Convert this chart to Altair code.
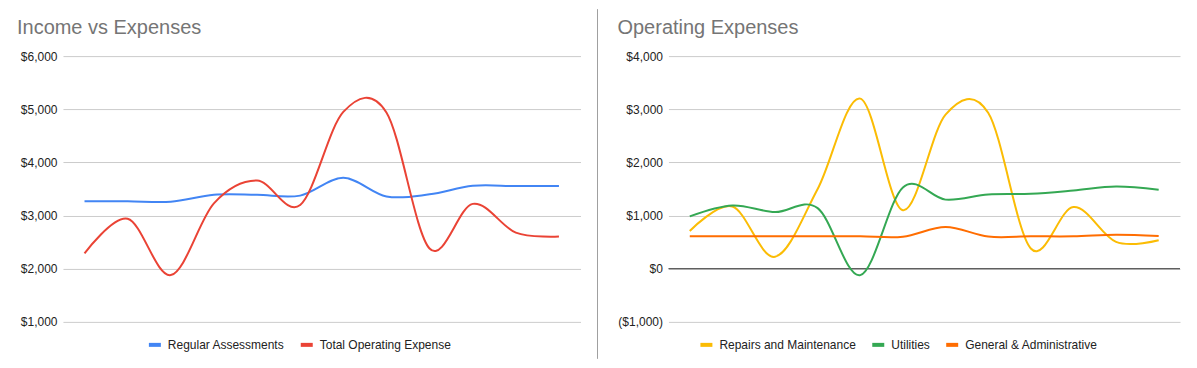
import altair as alt
import pandas as pd

# ---------------- data ----------------
months = ["Jan", "Feb", "Mar", "Apr", "May", "Jun",
          "Jul", "Aug", "Sep", "Oct", "Nov", "Dec"]

regular_assessments = [3270, 3270, 3260, 3390, 3390, 3375, 3710, 3360, 3400, 3560, 3555, 3555]
total_operating_expense = [2290, 2940, 1880, 3230, 3660, 3200, 4950, 4940, 2380, 3220, 2680, 2605]

repairs_maintenance = [710, 1170, 225, 1500, 3200, 1100, 2900, 2935, 380, 1160, 505, 536]
utilities = [985, 1190, 1066, 1140, -120, 1530, 1300, 1396, 1409, 1470, 1546, 1484]
general_admin = [610, 610, 610, 610, 610, 600, 785, 605, 610, 610, 640, 615]

left_series = ["Regular Assessments", "Total Operating Expense"]
left_colors = ["#4285F4", "#EA4335"]
right_series = ["Repairs and Maintenance", "Utilities", "General & Administrative"]
right_colors = ["#FBBC04", "#34A853", "#FF6D01"]

left_ticks = [1000, 2000, 3000, 4000, 5000, 6000]
right_ticks = [-1000, 0, 1000, 2000, 3000, 4000]

FONT = "Liberation Sans, Arial, Helvetica, sans-serif"


def long_frame(names, columns):
    rows = []
    for name, vals in zip(names, columns):
        for i, (m, v) in enumerate(zip(months, vals)):
            rows.append({"month": m, "idx": i, "series": name, "value": v})
    return pd.DataFrame(rows)


left_df = long_frame(left_series, [regular_assessments, total_operating_expense])
right_df = long_frame(right_series, [repairs_maintenance, utilities, general_admin])


def y_axis(values, fmt):
    return alt.Axis(values=values, format=fmt, title=None, domain=False,
                    ticks=False, tickSize=0, labelPadding=6,
                    labelFont=FONT, labelFontSize=12, labelColor="#222222",
                    grid=True, gridColor="#cccccc", gridWidth=1)


def legend(x, y):
    return alt.Legend(orient="none", legendX=x, legendY=y, direction="horizontal",
                      title=None, symbolType="stroke", symbolSize=144,
                      symbolStrokeWidth=4, labelFont=FONT, labelFontSize=12,
                      labelColor="#222222", labelOffset=5, columnPadding=8,
                      padding=0)


def title(text, dx):
    return alt.TitleParams(text=text, anchor="start", frame="group", dx=dx, dy=4,
                           fontSize=20, font=FONT, fontWeight="normal",
                           color="#757575", baseline="alphabetic", offset=0)


x_enc = alt.X("month:O", sort=months, axis=None,
              scale=alt.Scale(type="point", padding=0.5))

left = alt.Chart(left_df).mark_line(interpolate="cardinal", strokeWidth=2).encode(
    x=x_enc,
    y=alt.Y("value:Q", scale=alt.Scale(domain=[1000, 6000], nice=False),
            axis=y_axis(left_ticks, "$,.0f")),
    color=alt.Color("series:N",
                    scale=alt.Scale(domain=left_series, range=left_colors),
                    legend=legend(84, 281)),
    order="idx:Q",
).properties(width=518, height=266, title=title("Income vs Expenses", -46))

sep = alt.Chart(pd.DataFrame({"s": [0]})).mark_rule(
    color="#a0a0a0", strokeWidth=1
).encode(
    x=alt.value(17), y=alt.value(-47), y2=alt.value(303)
).properties(width=37, height=266)

zero_rule = alt.Chart(pd.DataFrame({"z": [0]})).mark_rule(
    color="#333333", strokeWidth=1
).encode(y=alt.Y("z:Q"))

right_lines = alt.Chart(right_df).mark_line(interpolate="cardinal", strokeWidth=2).encode(
    x=x_enc,
    y=alt.Y("value:Q", scale=alt.Scale(domain=[-1000, 4000], nice=False),
            axis=y_axis(right_ticks, "($,.0f")),
    color=alt.Color("series:N",
                    scale=alt.Scale(domain=right_series, range=right_colors),
                    legend=legend(30, 281)),
    order="idx:Q",
)

right = alt.layer(zero_rule, right_lines).properties(
    width=512, height=266, title=title("Operating Expenses", -51)
)

chart = alt.hconcat(left, sep, right, spacing=0).resolve_scale(
    color="independent", x="independent", y="independent"
).resolve_legend(color="independent").properties(
    padding={"left": 9, "top": 0, "right": 8, "bottom": 0}
).configure_view(stroke=None)

chart.save("out.html", embed_options={"renderer": "svg", "actions": False})
